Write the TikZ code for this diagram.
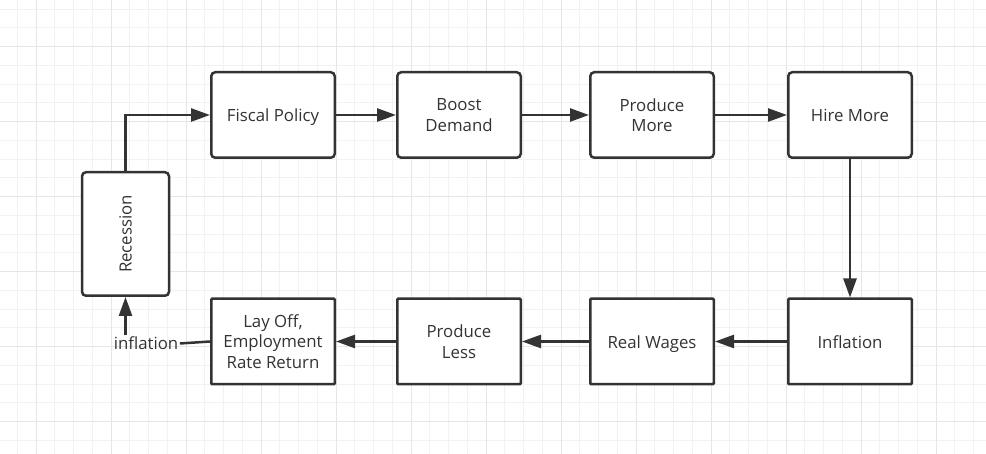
\documentclass[tikz,border=0pt]{standalone}
\usepackage{fontspec}
\setmainfont{Open Sans}
\usetikzlibrary{arrows.meta}
\definecolor{dk}{HTML}{333333}
\definecolor{gminor}{HTML}{F2F2F2}
\definecolor{gmajor}{HTML}{E6E6E6}
\begin{document}
\begin{tikzpicture}[x=1pt,y=-1pt,
  box/.style={draw=dk, line width=2.5pt, rounded corners=4pt, minimum width=123.5pt, minimum height=85.5pt,
    align=center, fill=white, text=dk, font=\fontsize{16.8}{20.5}\selectfont, inner sep=2pt},
  sbox/.style={box, rounded corners=1pt},
  oneline/.style={text height=15pt, text depth=1pt},
  conn/.style={draw=dk, line width=2.5pt, -{Triangle[length=19pt,width=13pt]}},
  plain/.style={draw=dk, line width=2.5pt}]
\useasboundingbox (0,0) rectangle (986,454);
\fill[white] (0,0) rectangle (986,454);
\foreach \i in {0,...,52} {
  \pgfmathsetmacro{\xx}{17.25+18.75*\i}
  \draw[gminor, line width=1pt] (\xx,0) -- (\xx,454);
}
\foreach \i in {0,...,24} {
  \pgfmathsetmacro{\yy}{9.2+18.75*\i}
  \draw[gminor, line width=1pt] (0,\yy) -- (986,\yy);
}
\foreach \i in {0,...,12} {
  \pgfmathsetmacro{\xx}{36+75*\i}
  \draw[gmajor, line width=1pt] (\xx,0) -- (\xx,454);
}
\foreach \i in {0,...,5} {
  \pgfmathsetmacro{\yy}{46.7+75*\i}
  \draw[gmajor, line width=1pt] (0,\yy) -- (986,\yy);
}
\node[box, oneline] (fiscal) at (273,115) {Fiscal Policy};
\node[box] (boost) at (459,115) {Boost\\Demand};
\node[box] (prodmore) at (652,115) {Produce\\More};
\node[box, oneline] (hire) at (850,115) {Hire More};
\node[sbox, oneline] (infl) at (850,341.5) {Inflation};
\node[sbox, oneline] (wages) at (652,341.5) {Real Wages};
\node[sbox] (prodless) at (459,341.5) {Produce\\Less};
\node[sbox] (layoff) at (273,341.5) {Lay Off,\\Employment\\Rate Return};
\node[box, minimum width=87pt, minimum height=123.5pt] (rec) at (125.5,234) {\rotatebox{90}{Recession}};
\node[text=dk, font=\fontsize{16.8}{20.5}\selectfont, inner sep=1.5pt] (inflabel) at (146,343.5) {inflation};
\draw[conn] (rec.north) |- (fiscal.west);
\draw[conn] (fiscal.east) -- (boost.west);
\draw[conn] (boost.east) -- (prodmore.west);
\draw[conn] (prodmore.east) -- (hire.west);
\draw[conn] (hire.south) -- (infl.north);
\draw[conn] (infl.west) -- (wages.east);
\draw[conn] (wages.west) -- (prodless.east);
\draw[conn] (prodless.west) -- (layoff.east);
\draw[plain] (layoff.west) -- (inflabel.east);
\draw[conn] (inflabel.north -| rec.south) -- (rec.south);
\end{tikzpicture}
\end{document}
